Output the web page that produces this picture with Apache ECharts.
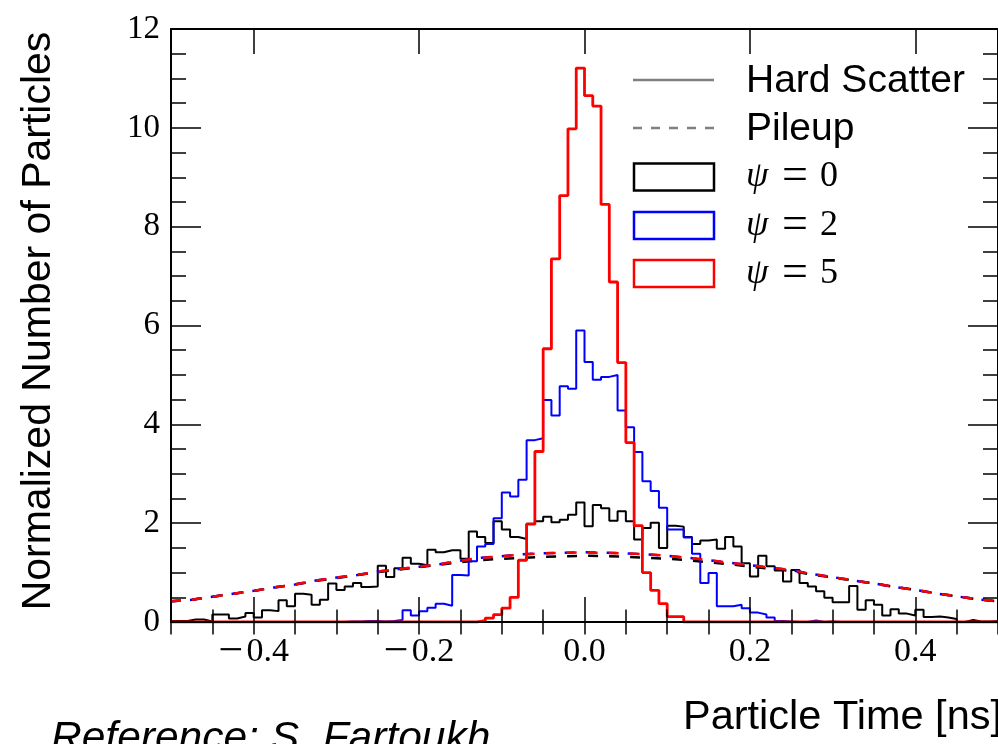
<!DOCTYPE html>
<html>
<head>
<meta charset="utf-8">
<title>Particle time distribution</title>
<script src="https://cdn.jsdelivr.net/npm/echarts@6.0.0/dist/echarts.min.js"></script>
<style>
  html, body { margin: 0; padding: 0; background: #fff; }
  #chart { width: 998px; height: 744px; }
</style>
</head>
<body>
<div id="chart"></div>
<script>
// 100 bins of 0.01 ns between -0.5 and 0.5
const binStart = -0.5;
const binWidth = 0.01;

// hard scatter, normalized number of particles per bin
const hsPsi0 = [
  0.02, 0.02, 0.05, 0.05, 0.01, 0.15, 0.15, 0.07, 0.11, 0.18,
  0.09, 0.24, 0.22, 0.44, 0.32, 0.57, 0.55, 0.35, 0.45, 0.78,
  0.65, 0.72, 0.79, 0.71, 0.72, 1.14, 0.91, 1.09, 1.30, 1.18,
  1.15, 1.46, 1.41, 1.45, 1.45, 1.28, 1.83, 1.72, 1.60, 2.04,
  1.87, 1.72, 1.68, 1.99, 2.04, 2.13, 2.02, 2.07, 2.17, 2.42,
  1.94, 2.37, 2.30, 2.05, 2.24, 2.04, 1.67, 1.90, 2.01, 1.50,
  1.95, 1.93, 1.72, 1.58, 1.65, 1.67, 1.48, 1.72, 1.53, 1.19,
  0.92, 1.34, 1.13, 1.04, 0.82, 1.05, 0.79, 0.72, 0.62, 0.49,
  0.40, 0.40, 0.73, 0.25, 0.44, 0.35, 0.13, 0.26, 0.17, 0.13,
  0.25, 0.10, 0.11, 0.09, 0.06, 0.00, 0.04, 0.01, 0.01, 0.02
];
const hsPsi2 = [
  0, 0, 0, 0, 0, 0, 0, 0, 0, 0,
  0, 0, 0, 0, 0, 0, 0, 0, 0, 0,
  0, 0.01, 0.01, 0.02, 0.02, 0.01, 0.02, 0.04, 0.24, 0.13,
  0.22, 0.29, 0.37, 0.33, 0.95, 0.94, 1.23, 1.53, 1.58, 2.10,
  2.62, 2.54, 2.88, 3.68, 3.72, 4.49, 4.18, 4.77, 4.72, 5.90,
  5.26, 4.90, 4.96, 5.00, 4.28, 3.94, 3.44, 2.85, 2.65, 2.31,
  1.87, 1.87, 1.71, 1.38, 0.79, 0.99, 0.32, 0.32, 0.35, 0.28,
  0.19, 0.15, 0.09, 0.02, 0.01, 0, 0, 0.03, 0, 0.01,
  0, 0, 0, 0, 0, 0, 0, 0, 0, 0,
  0, 0, 0, 0, 0, 0, 0, 0, 0, 0
];
const hsPsi5 = [
  0, 0, 0, 0, 0, 0, 0, 0, 0, 0,
  0, 0, 0, 0, 0, 0, 0, 0, 0, 0,
  0, 0, 0, 0, 0, 0, 0, 0, 0, 0,
  0, 0, 0, 0, 0, 0, 0, 0.03, 0.08, 0.15,
  0.28, 0.50, 1.25, 1.98, 3.45, 5.53, 7.35, 8.63, 9.98, 11.21,
  10.65, 10.44, 8.45, 6.88, 5.25, 3.63, 1.95, 1.00, 0.64, 0.37,
  0.11, 0.11, 0, 0, 0, 0, 0, 0, 0, 0,
  0, 0, 0, 0, 0, 0, 0, 0, 0, 0,
  0, 0, 0, 0, 0, 0, 0, 0, 0, 0,
  0, 0, 0, 0, 0, 0, 0, 0, 0, 0
];

const pileupTime = [
  -0.5, -0.475, -0.45, -0.425, -0.4, -0.375, -0.35, -0.325, -0.3, -0.275,
  -0.25, -0.225, -0.2, -0.175, -0.15, -0.125, -0.1, -0.075, -0.05, -0.025,
  0, 0.025, 0.05, 0.075, 0.1, 0.125, 0.15, 0.175, 0.2, 0.225,
  0.25, 0.275, 0.3, 0.325, 0.35, 0.375, 0.4, 0.425, 0.45, 0.475, 0.5
];
const puPsi0 = [
  0.42, 0.45, 0.51, 0.57, 0.63, 0.70, 0.76, 0.83, 0.89, 0.95,
  1.01, 1.06, 1.11, 1.16, 1.21, 1.25, 1.28, 1.30, 1.32, 1.33,
  1.34, 1.33, 1.32, 1.30, 1.28, 1.25, 1.21, 1.17, 1.12, 1.08,
  1.03, 0.96, 0.90, 0.84, 0.78, 0.71, 0.65, 0.58, 0.52, 0.46, 0.42
];
const puPsi2 = [
  0.42, 0.45, 0.51, 0.57, 0.63, 0.70, 0.76, 0.84, 0.90, 0.95,
  1.02, 1.07, 1.12, 1.17, 1.24, 1.30, 1.33, 1.37, 1.39, 1.40,
  1.41, 1.40, 1.39, 1.37, 1.34, 1.30, 1.25, 1.20, 1.15, 1.10,
  1.05, 0.97, 0.91, 0.84, 0.78, 0.71, 0.65, 0.58, 0.52, 0.46, 0.42
];
const puPsi5 = [
  0.42, 0.45, 0.51, 0.57, 0.63, 0.70, 0.76, 0.84, 0.90, 0.95,
  1.02, 1.07, 1.12, 1.17, 1.24, 1.30, 1.33, 1.37, 1.39, 1.40,
  1.41, 1.40, 1.39, 1.37, 1.34, 1.30, 1.25, 1.20, 1.15, 1.10,
  1.05, 0.97, 0.91, 0.84, 0.78, 0.71, 0.65, 0.58, 0.52, 0.46, 0.42
];

const xMajorTicks = [-0.4, -0.2, 0, 0.2, 0.4];
const legendRows = ['Hard Scatter', 'Pileup', '0', '2', '5'];

const serif = '"Liberation Serif", "DejaVu Serif", serif';
const sans = '"Liberation Sans", Arial, sans-serif';

// left bin edges + closing point, drawn with step 'end'
function histPoints(vals) {
  const pts = vals.map((v, i) => [binStart + i * binWidth, v]);
  pts.push([binStart + vals.length * binWidth, vals[vals.length - 1]]);
  return pts;
}

function curvePoints(vals) {
  return vals.map((v, i) => [pileupTime[i], v]);
}

// math style minus: wider than the text one
function fmtTick(v) {
  const s = Math.abs(v).toFixed(1);
  return v < -1e-9 ? '{m|\u2212}{n|' + s + '}' : '{n|' + s + '}';
}

const tickStyle = { color: '#000', width: 1.5 };

function majorX(position, withLabels) {
  return {
    type: 'value', position, min: -0.5, max: 0.5, z: 10,
    axisLine: { show: true, onZero: false, lineStyle: { color: '#000', width: 2 } },
    axisTick: { show: true, inside: true, length: 25, customValues: xMajorTicks, lineStyle: tickStyle },
    axisLabel: withLabels ? {
      show: true, customValues: xMajorTicks, formatter: fmtTick, margin: 13,
      fontFamily: serif, fontSize: 34, color: '#000', lineHeight: 34,
      rich: {
        m: { fontFamily: serif, fontSize: 44, lineHeight: 34, width: 28, align: 'left', color: '#000' },
        n: { fontFamily: serif, fontSize: 34, lineHeight: 34, color: '#000' }
      }
    } : { show: false },
    splitLine: { show: false }
  };
}

function minorX(position) {
  return {
    type: 'value', position, min: -0.5, max: 0.5, interval: 0.05, z: 10,
    axisLine: { show: false },
    axisTick: { show: true, inside: true, length: 12.5, lineStyle: tickStyle },
    axisLabel: { show: false },
    splitLine: { show: false }
  };
}

function yAxisDef(position, withLabels) {
  return {
    type: 'value', position, min: 0, max: 12, interval: 2, z: 10,
    axisLine: { show: true, onZero: false, lineStyle: { color: '#000', width: 2 } },
    axisTick: { show: true, inside: true, length: 30, lineStyle: tickStyle },
    minorTick: { show: true, splitNumber: 4, length: 15, lineStyle: tickStyle },
    axisLabel: withLabels ? {
      show: true, margin: 11, fontFamily: serif, fontSize: 33, color: '#000'
    } : { show: false },
    splitLine: { show: false }
  };
}

function histSeries(name, vals, color, width) {
  return {
    name, type: 'line', step: 'end', data: histPoints(vals),
    symbol: 'none', xAxisIndex: 0, yAxisIndex: 0,
    lineStyle: { color, width }, itemStyle: { color }
  };
}

function pileupSeries(name, vals, color, offset) {
  return {
    name, type: 'line', data: curvePoints(vals),
    symbol: 'none', xAxisIndex: 0, yAxisIndex: 0,
    lineStyle: { color, width: 2.5, type: [10, 11], dashOffset: offset }, itemStyle: { color }
  };
}

// legend drawn by hand: sample + label per row
const rowY = [80, 128, 177, 225.5, 273.5];
const boxColors = { '0': '#000', '2': '#0000ff', '5': '#ff0000' };
const legendGraphics = [];
legendRows.forEach((label, i) => {
  const y = rowY[i];
  if (i === 0 || i === 1) {
    legendGraphics.push({
      type: 'line', shape: { x1: 633, y1: y, x2: 714, y2: y },
      style: { stroke: '#808080', lineWidth: 2.5, lineDash: i === 1 ? [9, 9] : null }
    });
    legendGraphics.push({
      type: 'text', x: 746, y: y + 1,
      style: { text: label, font: '39px ' + sans, fill: '#000', align: 'left', verticalAlign: 'middle' }
    });
  } else {
    legendGraphics.push({
      type: 'rect', shape: { x: 634, y: y - 13.5, width: 80, height: 27 },
      style: { fill: 'none', stroke: boxColors[label], lineWidth: 2.5 }
    });
    legendGraphics.push({
      type: 'text', x: 746, y: y,
      style: {
        text: '{g|\u03c8}{e|=}{d|' + label + '}', align: 'left', verticalAlign: 'middle',
        rich: {
          g: { fontFamily: serif, fontStyle: 'italic', fontSize: 36, lineHeight: 36, fill: '#000', width: 36, align: 'left' },
          e: { fontFamily: serif, fontSize: 46, lineHeight: 36, fill: '#000', width: 38, align: 'left' },
          d: { fontFamily: serif, fontSize: 36, lineHeight: 36, fill: '#000' }
        }
      }
    });
  }
});

const chart = echarts.init(document.getElementById('chart'), null, { renderer: 'canvas' });
chart.setOption({
  animation: false,
  backgroundColor: '#fff',
  grid: { left: 171, top: 29, width: 831, height: 593 },
  xAxis: [majorX('bottom', true), minorX('bottom'), majorX('top', false), minorX('top')],
  yAxis: [yAxisDef('left', true), yAxisDef('right', false)],
  series: [
    histSeries('Hard Scatter \u03c8=0', hsPsi0, '#000', 2),
    pileupSeries('Pileup \u03c8=0', puPsi0, '#000', 0),
    histSeries('Hard Scatter \u03c8=2', hsPsi2, '#0000ff', 2),
    pileupSeries('Pileup \u03c8=2', puPsi2, '#0000ff', 2),
    histSeries('Hard Scatter \u03c8=5', hsPsi5, '#ff0000', 2.8),
    pileupSeries('Pileup \u03c8=5', puPsi5, '#ff0000', 0)
  ],
  graphic: legendGraphics.concat([
    {
      type: 'text', x: 39, y: 321, rotation: Math.PI / 2,
      style: { text: 'Normalized Number of Particles', font: '41px ' + sans, fill: '#000', align: 'center', verticalAlign: 'middle' }
    },
    {
      type: 'text', x: 683, y: 718,
      style: { text: 'Particle Time [ns]', font: '41.5px ' + sans, fill: '#000', align: 'left', verticalAlign: 'middle' }
    },
    {
      type: 'text', x: 51, y: 739,
      style: { text: 'Reference: S. Fartoukh', font: 'italic 42.5px ' + sans, fill: '#000', align: 'left', verticalAlign: 'middle' }
    }
  ])
});
</script>
</body>
</html>
